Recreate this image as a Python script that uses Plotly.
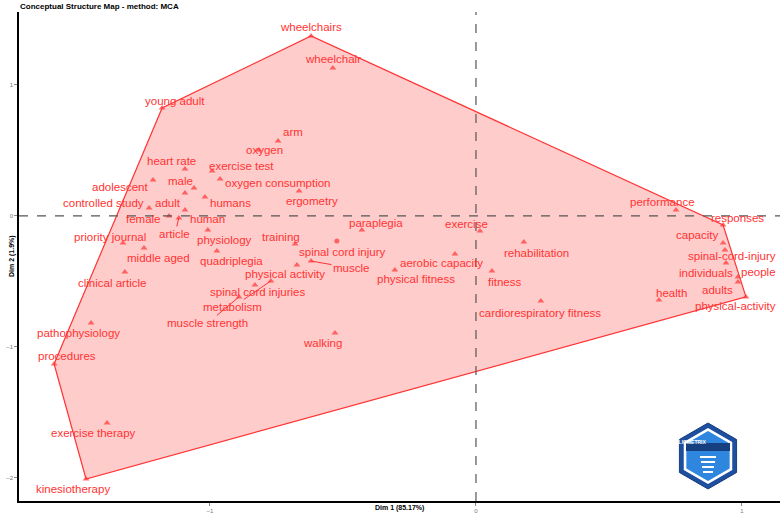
import plotly.graph_objects as go
import math

# ---------------- data ----------------
words = ["wheelchairs", "wheelchair", "young adult", "arm", "oxygen", "heart rate",
         "exercise test", "adolescent", "oxygen consumption", "male", "adult", "humans",
         "ergometry", "controlled study", "human", "female", "article", "priority journal",
         "middle aged", "physiology", "quadriplegia", "training", "spinal cord injury",
         "muscle", "physical activity", "clinical article", "spinal cord injuries",
         "metabolism", "muscle strength", "walking", "paraplegia", "exercise",
         "aerobic capacity", "physical fitness", "fitness", "rehabilitation",
         "cardiorespiratory fitness", "pathophysiology", "procedures", "exercise therapy",
         "kinesiotherapy", "performance", "responses", "capacity", "spinal-cord-injury",
         "individuals", "people", "adults", "health", "physical-activity"]
dim1 = [-0.620, -0.538, -1.180, -0.744, -0.816, -1.094,
        -0.992, -1.214, -0.962, -1.060, -1.094, -1.019,
        -0.665, -1.229, -1.094, -1.154, -1.117, -1.327,
        -1.248, -1.008, -0.974, -0.680, -0.523,
        -0.620, -0.673, -1.320, -0.831,
        -0.771, -0.891, -0.530, -0.429, 0.015,
        -0.079, -0.305, 0.060, 0.180,
        0.244, -1.447, -1.586, -1.387,
        -1.466, 0.752, 0.929, 0.929, 0.936,
        0.940, 0.985, 0.985, 0.688, 1.015]
dim2 = [1.374, 1.130, 0.824, 0.573, 0.504, 0.359,
        0.344, 0.275, 0.282, 0.214, 0.176, 0.145,
        0.191, 0.061, 0.046, 0.000, -0.015, -0.206,
        -0.244, -0.107, -0.267, -0.214, -0.191,
        -0.344, -0.374, -0.427, -0.527,
        -0.496, -0.618, -0.893, -0.107, -0.115,
        -0.290, -0.412, -0.420, -0.198,
        -0.649, -0.817, -1.130, -1.580,
        -2.008, 0.046, -0.069, -0.206, -0.260,
        -0.359, -0.504, -0.466, -0.641, -0.618]
x_ticks = [-1, 0, 1]
y_ticks = [-2, -1, 0, 1]
title_text = "Conceptual Structure Map - method: MCA"
x_title = "Dim 1 (85.17%)"
y_title = "Dim 2 (1.9%)"

# label placement (pixel offsets from the point, screen coordinates: +dy = down)
label_offsets = {
    "wheelchairs": (0, -9), "wheelchair": (0, -9), "young adult": (13, -7), "arm": (15, -9),
    "oxygen": (6, 0), "heart rate": (-13, -8), "exercise test": (29, -5),
    "adolescent": (-33, 7), "oxygen consumption": (57, 4), "male": (-14, -7),
    "adult": (-17, 10), "humans": (26, 6), "ergometry": (13, 10),
    "controlled study": (-46, -5), "human": (23, 9), "female": (-26, 3),
    "article": (-4, 16), "priority journal": (-13, -6), "middle aged": (14, 10),
    "physiology": (17, 10), "quadriplegia": (15, 10), "training": (-14, -7),
    "spinal cord injury": (6, 11), "muscle": (40, 7), "physical activity": (-12, 9),
    "clinical article": (-13, 11), "spinal cord injuries": (3, 7),
    "metabolism": (-38, 26), "muscle strength": (-31, 26), "walking": (-13, 10),
    "paraplegia": (14, -7), "exercise": (-13, -7), "aerobic capacity": (-13, 9),
    "physical fitness": (21, 9), "fitness": (13, 11), "rehabilitation": (13, 11),
    "cardiorespiratory fitness": (-1, 12), "pathophysiology": (-13, 10),
    "procedures": (13, -8), "exercise therapy": (-14, 10), "kinesiotherapy": (-13, 10),
    "performance": (-14, -8), "responses": (14, -7), "capacity": (-26, -8),
    "spinal-cord-injury": (7, 6), "individuals": (-20, 10), "people": (21, -10),
    "adults": (-20, 13), "health": (13, -7), "physical-activity": (-10, 9),
}
leader_words = {"article", "muscle", "metabolism", "muscle strength"}
circle_words = {"spinal cord injury"}

RED = "#FF3333"
FONT = "Liberation Sans, Arial, sans-serif"
LABEL_SIZE = 11.5

# ---------------- convex hull ----------------
def convex_hull(pts):
    pts = sorted(set(pts))
    def cross(o, a, b):
        return (a[0] - o[0]) * (b[1] - o[1]) - (a[1] - o[1]) * (b[0] - o[0])
    lower, upper = [], []
    for p in pts:
        while len(lower) >= 2 and cross(lower[-2], lower[-1], p) <= 0:
            lower.pop()
        lower.append(p)
    for p in reversed(pts):
        while len(upper) >= 2 and cross(upper[-2], upper[-1], p) <= 0:
            upper.pop()
        upper.append(p)
    return lower[:-1] + upper[:-1]

hull = convex_hull(list(zip(dim1, dim2)))
hx = [p[0] for p in hull] + [hull[0][0]]
hy = [p[1] for p in hull] + [hull[0][1]]

fig = go.Figure()
fig.add_trace(go.Scatter(x=hx, y=hy, mode="lines", fill="toself",
                         fillcolor="rgba(255,0,0,0.2)",
                         line=dict(color=RED, width=1.2), hoverinfo="skip",
                         showlegend=False))
fig.add_trace(go.Scatter(x=dim1, y=dim2, mode="markers",
                         marker=dict(symbol=["circle" if w in circle_words else "triangle-up"
                                             for w in words],
                                     size=[5 if w in circle_words else 6 for w in words],
                                     color=RED, line=dict(width=0)),
                         text=words, showlegend=False))

fig.add_hline(y=0, line=dict(color="#555555", width=1.2, dash="dash"))
fig.add_vline(x=0, line=dict(color="#555555", width=1.2, dash="dash"))

for w, xv, yv in zip(words, dim1, dim2):
    dx, dy = label_offsets.get(w, (0, -9))
    if w in leader_words:
        fig.add_annotation(x=xv, y=yv, text=w, showarrow=True, ax=dx, ay=dy,
                           arrowhead=0, arrowwidth=1, arrowcolor=RED, standoff=0,
                           font=dict(family=FONT, size=LABEL_SIZE, color=RED))
    else:
        fig.add_annotation(x=xv, y=yv, text=w, showarrow=False, xshift=dx, yshift=-dy,
                           font=dict(family=FONT, size=LABEL_SIZE, color=RED))

# ---------------- layout ----------------
W, H = 782, 520
L, R, T, B = 19, 2, 12, 19
PW, PH = W - L - R, H - T - B

def px2paper(px, py):
    return (px - L) / PW, (H - B - py) / PH

fig.update_layout(
    width=W, height=H, margin=dict(l=L, r=R, t=T, b=B),
    plot_bgcolor="white", paper_bgcolor="white",
    title=dict(text="<b>" + title_text + "</b>", x=20 / W, xanchor="left",
               y=1 - 6 / H, yanchor="middle",
               font=dict(family=FONT, size=8, color="black")),
    xaxis=dict(range=[-1.718, 1.143], tickvals=x_ticks, showgrid=False, zeroline=False,
               showline=True, linecolor="black", linewidth=1.5, ticks="outside",
               ticklen=3, tickcolor="#888888", tickfont=dict(family=FONT, size=6, color="#777777")),
    yaxis=dict(range=[-2.176, 1.557], tickvals=y_ticks, showgrid=False, zeroline=False,
               showline=True, linecolor="black", linewidth=1.5, ticks="outside",
               ticklen=3, tickcolor="#888888", tickfont=dict(family=FONT, size=6, color="#777777")),
)

xa, ya = px2paper(399, 514)
fig.add_annotation(xref="paper", yref="paper", x=xa, y=ya, text="<b>" + x_title + "</b>",
                   showarrow=False, font=dict(family=FONT, size=7, color="black"))
xa, ya = px2paper(6, 256)
fig.add_annotation(xref="paper", yref="paper", x=xa, y=ya, text="<b>" + y_title + "</b>",
                   showarrow=False, textangle=-90, font=dict(family=FONT, size=7, color="black"))

# ---------------- logo (decoration) ----------------
def hexagon(cx, cy, r):
    pts = []
    for k in range(6):
        a = math.radians(90 + 60 * k)
        pts.append(px2paper(cx + r * math.cos(a), cy - r * math.sin(a)))
    return "M " + " L ".join(f"{p[0]:.5f},{p[1]:.5f}" for p in pts) + " Z"

cx, cy = 708, 456
fig.add_shape(type="path", xref="paper", yref="paper", path=hexagon(cx, cy, 33),
              fillcolor="#1d4f9e", line=dict(color="#163f80", width=1))
fig.add_shape(type="path", xref="paper", yref="paper", path=hexagon(cx, cy, 28),
              fillcolor="white", line=dict(width=0))
fig.add_shape(type="path", xref="paper", yref="paper", path=hexagon(cx, cy, 25),
              fillcolor="#2e86de", line=dict(width=0))
x0, y0 = px2paper(cx - 22, cy - 13)
x1, y1 = px2paper(cx + 22, cy - 5)
fig.add_shape(type="rect", xref="paper", yref="paper", x0=x0, y0=y0, x1=x1, y1=y1,
              fillcolor="#163f80", line=dict(width=0))
xa, ya = px2paper(cx, cy - 9)
fig.add_annotation(xref="paper", yref="paper", x=xa, y=ya, text="<b>BIBLIOMETRIX</b>",
                   showarrow=False, font=dict(family=FONT, size=5, color="white"))
for k in range(4):
    x0, y0 = px2paper(cx - 8 + k, cy + 0 + 5 * k)
    x1, y1 = px2paper(cx + 8 - k, cy + 2 + 5 * k)
    fig.add_shape(type="rect", xref="paper", yref="paper", x0=x0, y0=y0, x1=x1, y1=y1,
                  fillcolor="white", line=dict(width=0))

fig.write_html("out.html")
